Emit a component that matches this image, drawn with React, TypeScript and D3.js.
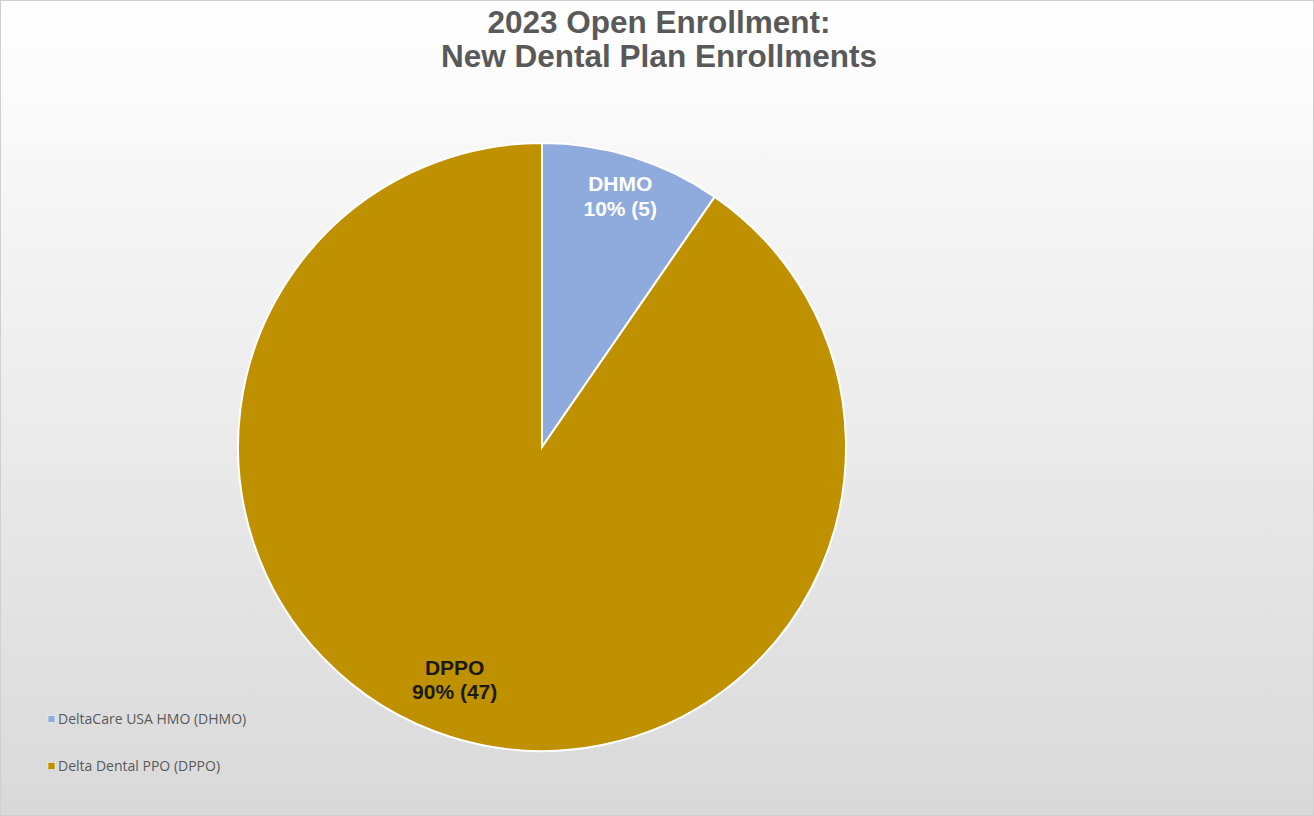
import React from "react";
import * as d3 from "d3";

const categories = ["DHMO", "DPPO"];
const legendNames = ["DeltaCare USA HMO (DHMO)", "Delta Dental PPO (DPPO)"];
const values = [5, 47];
const colors = ["#8FAADC", "#BF9000"];
const labelColors = ["#FFFFFF", "#1a1a1a"];
const titleLines = ["2023 Open Enrollment:", "New Dental Plan Enrollments"];

const W = 1314;
const H = 816;
// layout of data labels (fraction of radius, horizontal nudge)
const labelRadiusFrac = [0.865, 0.8];
const labelNudgeX = [0, -15];

export default function App() {
  const cx = 542;
  const cy = 447;
  const r = 304;
  const total = d3.sum(values);
  const pie = d3.pie<number>().sort(null).value((d) => d)(values);
  const arc = d3.arc<d3.PieArcDatum<number>>().innerRadius(0).outerRadius(r);
  const fmt = d3.format(".0%");

  return (
    <div style={{ position: "fixed", left: 0, top: 0 }}>
      <svg width={W} height={H} style={{ display: "block" }}>
        <defs>
          <linearGradient id="bg" x1="0" y1="0" x2="0" y2="1">
            <stop offset="0" stopColor="#FFFFFF" />
            <stop offset="1" stopColor="#D9D9D9" />
          </linearGradient>
        </defs>
        <rect x={0.5} y={0.5} width={W - 1} height={H - 1} fill="url(#bg)" stroke="#D0D0D0" />
        <text
          x={659}
          textAnchor="middle"
          fontFamily="Liberation Sans, Arial, sans-serif"
          fontWeight="bold"
          fontSize={31.5}
          fill="#595959"
        >
          {titleLines.map((t, i) => (
            <tspan key={i} x={659} y={33 + i * 34}>
              {t}
            </tspan>
          ))}
        </text>
        <g transform={`translate(${cx},${cy})`}>
          {pie.map((p, i) => (
            <path key={i} d={arc(p) || ""} fill={colors[i]} stroke="#FFFFFF" strokeWidth={2} />
          ))}
          {pie.map((p, i) => {
            const la = d3
              .arc<d3.PieArcDatum<number>>()
              .innerRadius(r * labelRadiusFrac[i])
              .outerRadius(r * labelRadiusFrac[i]);
            const [x0, ly] = la.centroid(p);
            const lx = x0 + labelNudgeX[i];
            return (
              <text
                key={"l" + i}
                textAnchor="middle"
                fontFamily="Liberation Sans, Arial, sans-serif"
                fontWeight="bold"
                fontSize={21}
                fill={labelColors[i]}
              >
                <tspan x={lx} y={ly - 4.5}>
                  {categories[i]}
                </tspan>
                <tspan x={lx} y={ly + 20}>
                  {`${fmt(values[i] / total)} (${values[i]})`}
                </tspan>
              </text>
            );
          })}
        </g>
        {legendNames.map((n, i) => (
          <g key={n} transform={`translate(48, ${719 + i * 47})`}>
            <rect x={0} y={-3.5} width={7} height={7} fill={colors[i]} stroke="#FFFFFF" strokeWidth={0.5} />
            <text
              x={10}
              y={5}
              fontFamily="Open Sans, sans-serif"
              fontSize={14}
              fill="#595959"
            >
              {n}
            </text>
          </g>
        ))}
      </svg>
    </div>
  );
}
